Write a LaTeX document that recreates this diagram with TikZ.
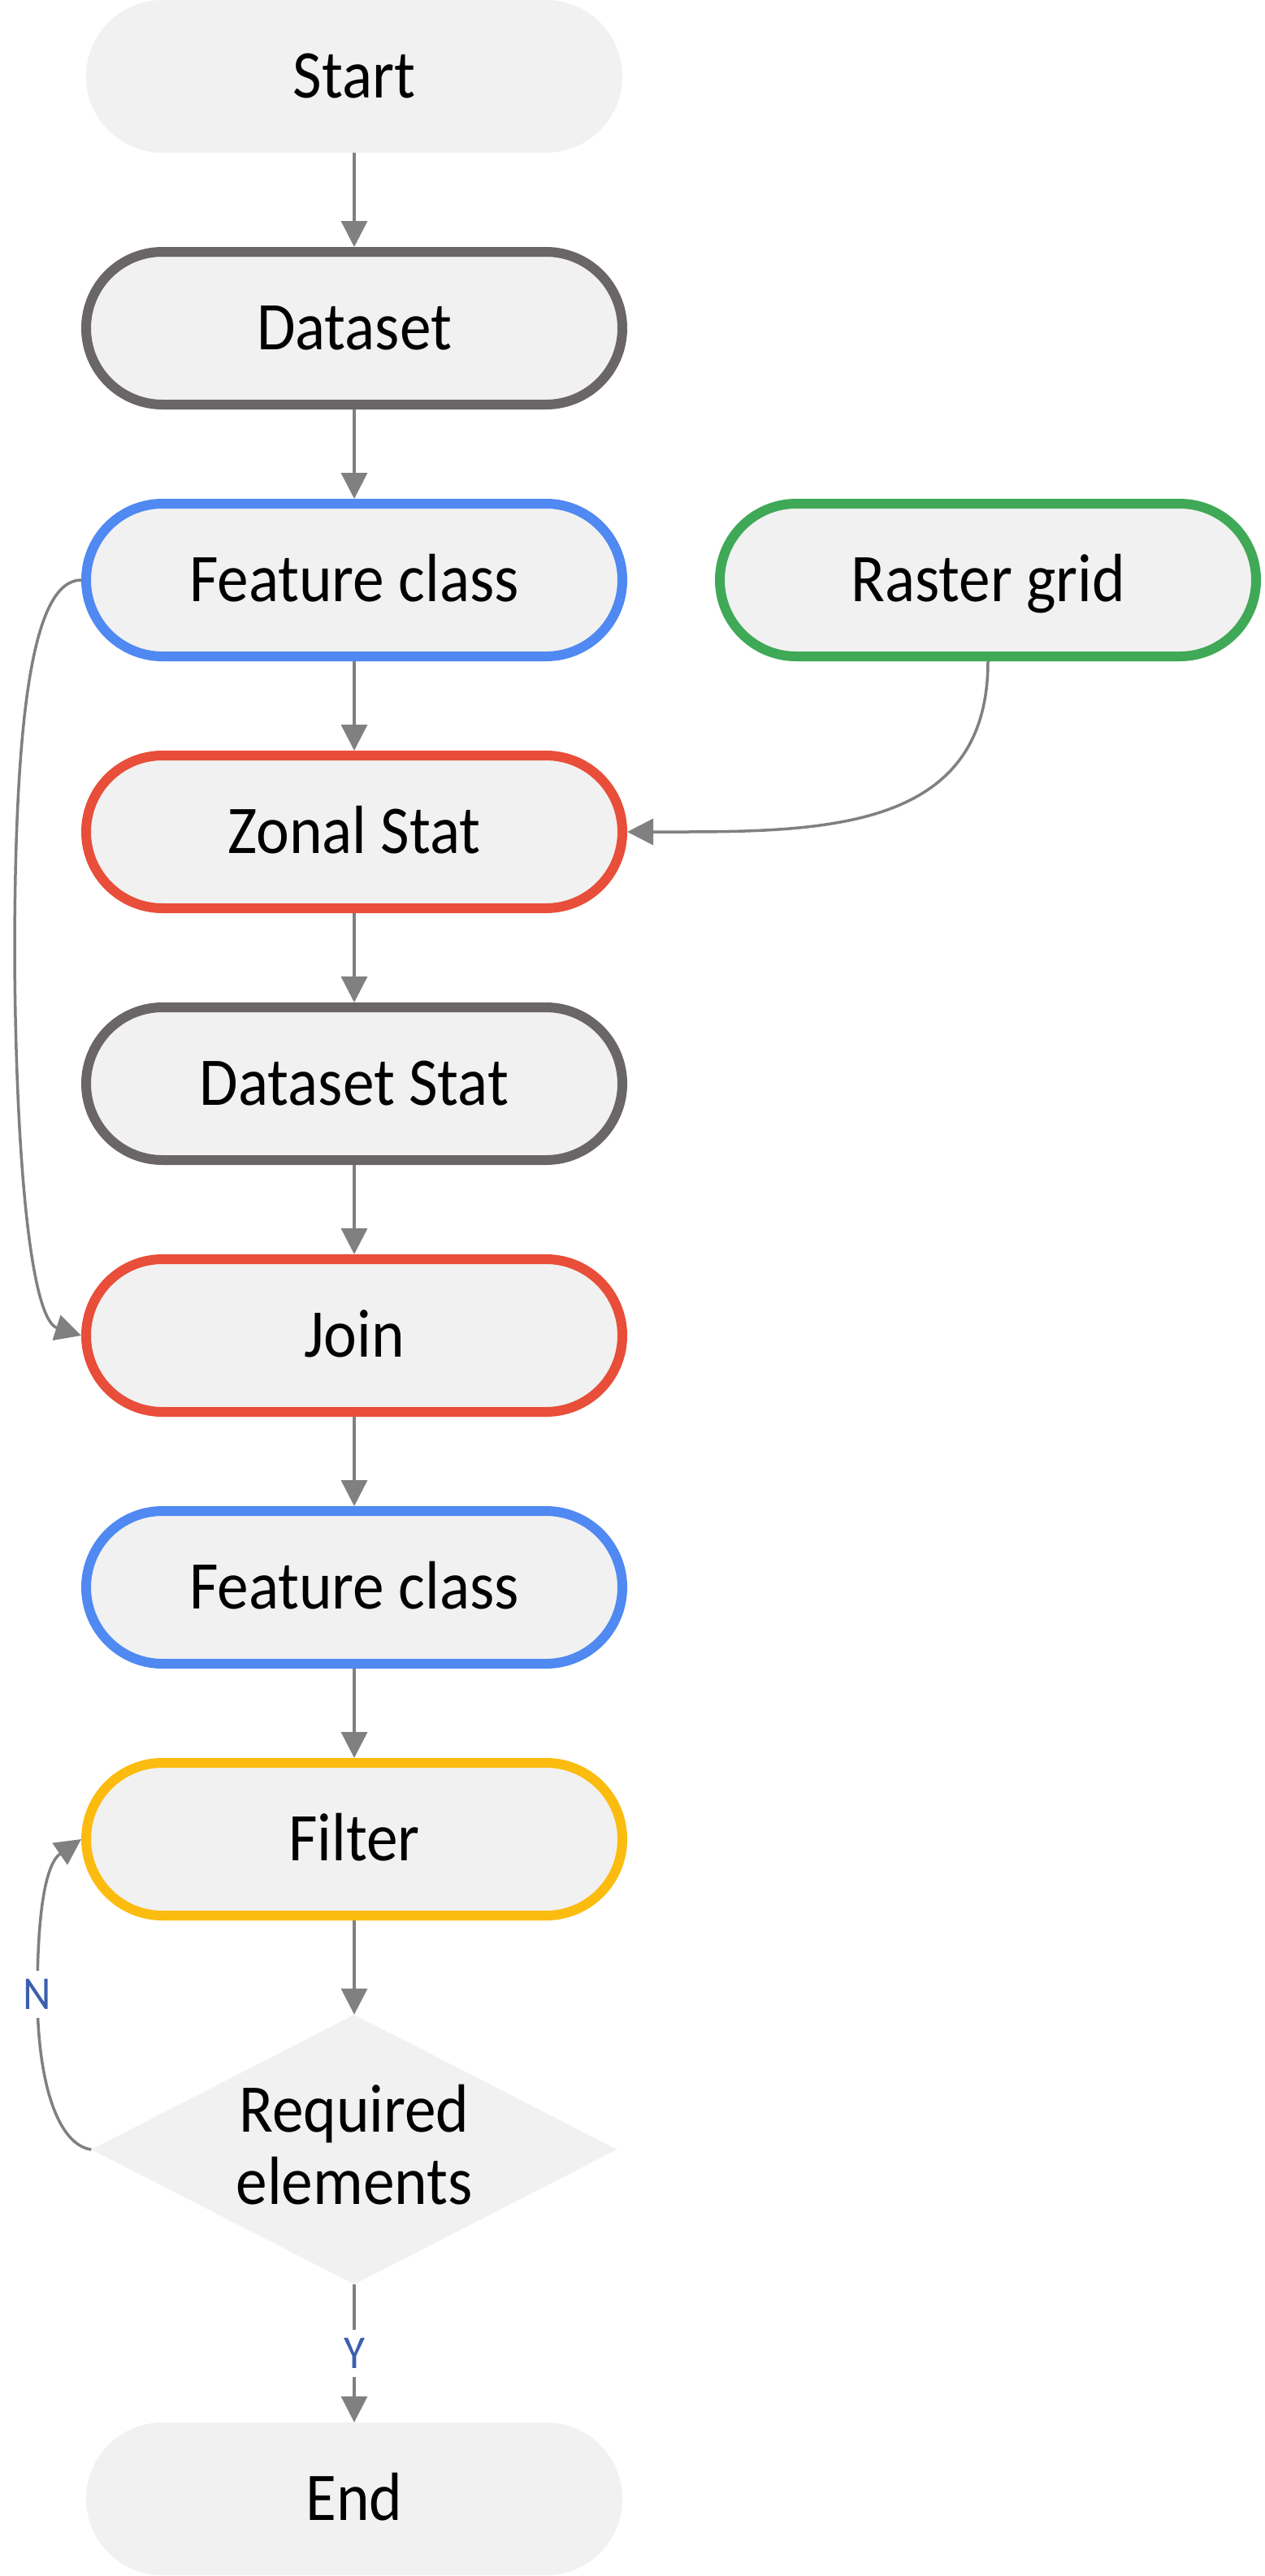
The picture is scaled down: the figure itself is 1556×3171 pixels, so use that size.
\documentclass[tikz,border=0pt]{standalone}
\usepackage{fontspec}
\setmainfont{Carlito}[FakeStretch=0.92]
\usetikzlibrary{arrows.meta,shapes.geometric}

\definecolor{nodefill}{HTML}{F1F1F1}
\definecolor{cgray}{HTML}{6A6567}
\definecolor{cblue}{HTML}{4F89F1}
\definecolor{cred}{HTML}{E84E39}
\definecolor{cgreen}{HTML}{3FA957}
\definecolor{cyellow}{HTML}{FBBC0F}
\definecolor{conncol}{HTML}{808080}
\definecolor{lblcol}{HTML}{3C5FAE}

\begin{document}
\begin{tikzpicture}[x=1pt,y=-1pt,
  box/.style={rectangle, rounded corners=94pt, fill=nodefill, minimum width=660pt, minimum height=188pt, inner sep=0pt, font=\fontsize{84}{89}\selectfont, text height=53pt, text depth=0pt},
  term/.style={box, draw=none},
  proc/.style={box, draw=#1, line width=12pt},
  conn/.style={draw=conncol, line width=3.5pt, -{Triangle[width=32pt,length=32pt]}},
  lbl/.style={fill=white, text=lblcol, font=\fontsize{58}{64}\selectfont, inner sep=10pt},
]
\fill[white] (0,0) rectangle (1556,3171);
\useasboundingbox (0,0) rectangle (1556,3171);

\node[term] (start) at (436,94) {Start};
\node[proc=cgray] (ds) at (436,404) {Dataset};
\node[proc=cblue] (fc) at (436,714) {Feature class};
\node[proc=cgreen] (rg) at (1216,714) {Raster grid};
\node[proc=cred] (zs) at (436,1024) {Zonal Stat};
\node[proc=cgray] (dss) at (436,1334) {Dataset Stat};
\node[proc=cred] (join) at (436,1644) {Join};
\node[proc=cblue] (fc2) at (436,1954) {Feature class};
\node[proc=cyellow] (filt) at (436,2264) {Filter};
\node[diamond, fill=nodefill, minimum width=647pt, minimum height=332pt, inner sep=0pt] (dia) at (436,2646) {};
\node[font=\fontsize{84}{89}\selectfont, align=center, inner sep=0pt] (diatxt) at (436,2640) {Required\\elements};
\node[term] (end) at (436,3076) {End};

\draw[conn] (start) -- (ds);
\draw[conn] (ds) -- (fc);
\draw[conn] (fc) -- (zs);
\draw[conn] (zs) -- (dss);
\draw[conn] (dss) -- (join);
\draw[conn] (join) -- (fc2);
\draw[conn] (fc2) -- (filt);
\draw[conn] (filt) -- (dia);
\draw[conn] (rg.south) .. controls +(0,215) and +(230,0) .. (zs.east);

\coordinate (lm) at (18,1180);
\draw[conn] (fc.west) .. controls (40,714) and (18,880) .. (lm) .. controls (20,1450) and (40,1625) .. (join.west);

\coordinate (nmid) at (46,2455);
\draw[conn] (dia.west) .. controls (70,2640) and (46,2560) .. (nmid) .. controls (46,2360) and (55,2295) .. (filt.west);
\node[lbl] (nlbl) at (nmid) {N};

\draw[conn] (dia.south) -- node[lbl] (ylbl) {Y} (end);
\end{tikzpicture}
\end{document}
